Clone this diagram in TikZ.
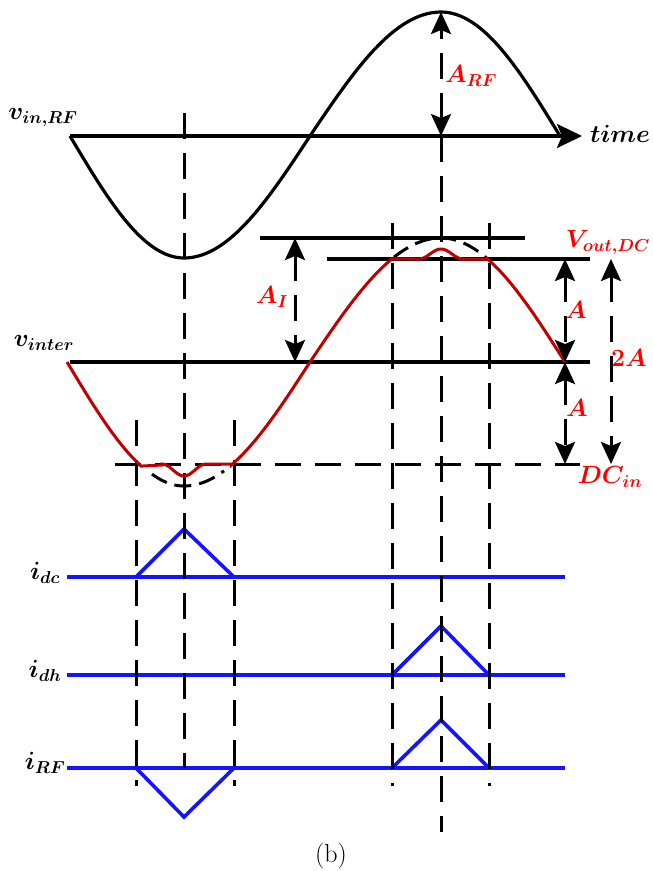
\documentclass[tikz,border=0pt]{standalone}
\usepackage{amsmath,amssymb}
\usepackage{bm}
\usepackage{tikz}
\usetikzlibrary{arrows.meta,calc,positioning}
\definecolor{wavered}{RGB}{192,0,0}
\definecolor{lblred}{RGB}{255,0,0}
\definecolor{curblue}{RGB}{20,20,255}
\tikzset{
  line join=round,
  axisline/.style={line width=3.2pt},
  guide/.style={line width=3pt, dash pattern=on 26pt off 14pt},
  arcguide/.style={line width=3pt, dash pattern=on 17pt off 8pt},
  dimarrow/.style={{Stealth[length=22pt,width=20pt,inset=4pt]}-{Stealth[length=22pt,width=20pt,inset=4pt]},
    line width=3pt, dash pattern=on 26pt off 14pt},
  vinwave/.style={line width=3.2pt},
  interwave/.style={line width=3pt, draw=wavered},
  curwave/.style={line width=3.6pt, draw=curblue},
  lbl/.style={font=\fontsize{25}{30}\selectfont, inner sep=0pt},
  redlbl/.style={lbl, text=lblred}
}

\begin{document}
\begin{tikzpicture}[x=1pt,y=-1pt]
\useasboundingbox (0,0) rectangle (653,871);

% 전류 파형
\draw[curwave] (67,577) -- (565,577);
\draw[curwave] (67,675) -- (565,675);
\draw[curwave] (67,768) -- (565,768);
\draw[curwave] (136,577) -- (184,529) -- (234,577);
\draw[curwave] (392,675) -- (441,626) -- (489,675);
\draw[curwave] (392,768) -- (441,720) -- (489,768);
\draw[curwave] (136,768) -- (184,817) -- (234,768);

% 보조 점선
\draw[guide] (184,113) -- (184,768);
\draw[guide] (441,136) -- (441,832);
\draw[guide] (136,420) -- (136,786);
\draw[guide] (234,420) -- (234,786);
\draw[guide] (392,223) -- (392,786);
\draw[guide] (489,223) -- (489,786);
\draw[guide] (115,464) -- (580,464);

% 기준선
\draw[axisline, -{Stealth[length=25pt,width=24pt,inset=5pt]}] (70,136) -- (582,136);
\draw[axisline] (70,362) -- (590,362);
\draw[axisline] (260,238) -- (525,238);
\draw[axisline] (327,259) -- (590,259);

% 입력 파형
\draw[vinwave] (70,136) sin (184,258) cos (310,136) sin (441,12) cos (560,136);

% 클리핑된 부분 (점선)
\draw[arcguide] plot[domain=152:184, samples=20] (\x,{362+124*sin(90*(\x-70)/114)})
  -- plot[domain=184:224, samples=20] (\x,{362+124*sin(90*(310-\x)/126)});
\draw[arcguide] plot[domain=394:441, samples=20] (\x,{362-124*sin(90*(\x-310)/131)})
  -- plot[domain=441:489, samples=20] (\x,{362-124*sin(90*(565-\x)/124)});

% 중간 파형
\draw[interwave] plot[domain=67:141.2, samples=40] (\x,{362+124*sin(90*(\x-67)/117)})
  -- (162,465) -- plot[domain=162:206, samples=30] (\x,{464+6+6*cos(180*(\x-184)/22)})
  -- (231.3,464) -- plot[domain=231.3:310, samples=40] (\x,{362+124*sin(90*(310-\x)/126)})
  -- plot[domain=310:391.8, samples=40] (\x,{362-124*sin(90*(\x-310)/131)})
  -- (419,259) -- plot[domain=419:463, samples=30] (\x,{259-5-5*cos(180*(\x-441)/22)})
  -- (487.6,259) -- plot[domain=487.6:565, samples=40] (\x,{362-124*sin(90*(565-\x)/124)});

% 치수 화살표
\coordinate (rftop) at (441,12);
\coordinate (rfmid) at (441,136);
\coordinate (aitop) at (295,238);
\coordinate (aimid) at (295,362);
\coordinate (vtop) at (565,259);
\coordinate (vmid) at (565,362);
\coordinate (vbot) at (565,464);
\coordinate (ttop) at (611,259);
\coordinate (tbot) at (611,464);
\draw[dimarrow] (rfmid) -- (rftop);
\draw[dimarrow] (aitop) -- (aimid);
\draw[dimarrow] (vtop) -- (vmid);
\draw[dimarrow] (vmid) -- (vbot);
\draw[dimarrow] (ttop) -- (tbot);

% 레이블
\node[lbl] (vinlbl) at (43,118) {$\bm{v_{in,RF}}$};
\node[lbl] (timelbl) at (620,134) {$\bm{time}$};
\node[lbl] (interlbl) at (44,343) {$\bm{v_{inter}}$};
\node[lbl] (idclbl) at (45,573) {$\bm{i_{dc}}$};
\node[lbl] (idhlbl) at (45,671) {$\bm{i_{dh}}$};
\node[lbl] (irflbl) at (45,763) {$\bm{i_{RF}}$};
\node[redlbl] (arflbl) at (471,76) {$\bm{A_{RF}}$};
\node[redlbl] (ailbl) at (272,297) {$\bm{A_I}$};
\node[redlbl] (voutlbl) at (608,243) {$\bm{V_{out,DC}}$};
\node[redlbl] (aup) at (576,310) {$\bm{A}$};
\node[redlbl] (twoa) at (629,358) {$\bm{2A}$};
\node[redlbl] (alow) at (577,408) {$\bm{A}$};
\node[redlbl] (dclbl) at (610,477) {$\bm{DC_{in}}$};
\node[font=\fontsize{26}{30}\selectfont] (cap) at (331,856) {(b)};

\end{tikzpicture}
\end{document}
